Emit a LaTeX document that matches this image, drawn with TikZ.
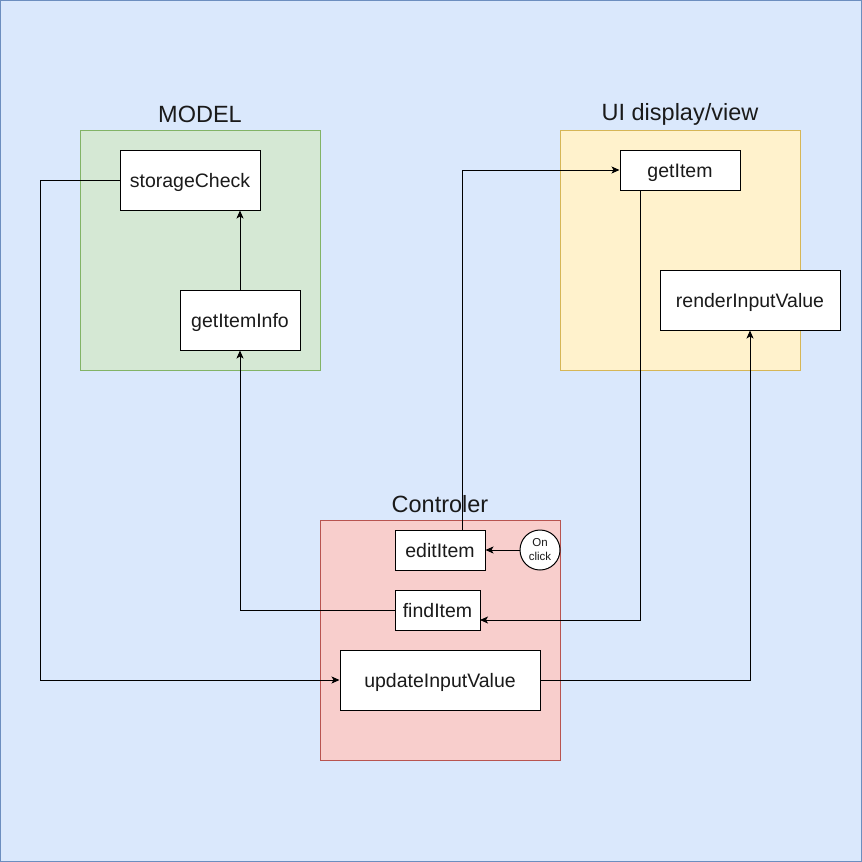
\documentclass[tikz,border=0pt]{standalone}
\usepackage{fontspec}
\setmainfont{Liberation Sans}
\usetikzlibrary{arrows.meta,calc}
\definecolor{bgfill}{HTML}{DAE8FC}
\definecolor{bgline}{HTML}{6C8EBF}
\definecolor{gfill}{HTML}{D5E8D4}
\definecolor{gline}{HTML}{82B366}
\definecolor{yfill}{HTML}{FFF2CC}
\definecolor{yline}{HTML}{D6B656}
\definecolor{rfill}{HTML}{F8CECC}
\definecolor{rline}{HTML}{B85450}
\definecolor{txt}{HTML}{1A1A1A}
\begin{document}
\begin{tikzpicture}[x=1pt,y=-1pt,
  box/.style={draw=black,fill=white,line width=1pt,inner sep=0pt,text height=14pt,text depth=0pt,font=\fontsize{19.5}{22}\selectfont,text=txt},
  grp/.style={line width=1pt},
  glabel/.style={font=\fontsize{23.5}{26}\selectfont,text=txt},
  conn/.style={draw=black,line width=1pt,-{Stealth[length=8pt,width=7pt,inset=2pt]}}]
\useasboundingbox (0,0) rectangle (862,862);
\draw[fill=bgfill,draw=bgline,line width=1pt] (0.5,0.5) rectangle (861,861);
% groups
\draw[grp,fill=gfill,draw=gline] (80,130) rectangle (320,370);
\node[glabel] (mlabel) at (200,114.5) {MODEL};
\draw[grp,fill=yfill,draw=yline] (560,130) rectangle (800,370);
\node[glabel] (ulabel) at (680,114) {UI display/view};
\draw[grp,fill=rfill,draw=rline] (320,520) rectangle (560,760);
\node[glabel] (clabel) at (440,504.5) {Controler};
% boxes
\node[box,minimum width=140pt,minimum height=60pt] (sc) at (190,180) {storageCheck};
\node[box,minimum width=120pt,minimum height=60pt] (gii) at (240,320) {getItemInfo};
\node[box,minimum width=120pt,minimum height=40pt] (gi) at (680,170) {getItem};
\node[box,minimum width=180pt,minimum height=60pt] (riv) at (750,300) {renderInputValue};
\node[box,minimum width=90pt,minimum height=40pt] (ei) at (440,550) {editItem};
\node[box,minimum width=85pt,minimum height=40pt] (fi) at (437.5,610) {findItem};
\node[box,minimum width=200pt,minimum height=60pt] (uiv) at (440,680) {updateInputValue};
\node[draw=black,fill=white,circle,line width=1pt,minimum size=40pt,inner sep=0pt,align=center,font=\fontsize{11.5}{14}\selectfont,text=txt] (oc) at (540,550) {On\\click};
% connectors
\coordinate (c1) at (40,180);
\coordinate (c2) at (40,680);
\draw[conn] (sc.west) -- (c1) -- (c2) -- (uiv.west);
\draw[conn] (gii.north) -- (sc.south -| gii.north);
\coordinate (c3) at (240,610);
\draw[conn] (fi.west) -- (c3) -- (gii.south);
\coordinate (c4) at (462,530);
\coordinate (c5) at (462,170);
\draw[conn] (c4) -- (c5) -- (gi.west);
\coordinate (c6) at (640,190);
\coordinate (c7) at (640,620);
\coordinate (c8) at (480,620);
\draw[conn] (c6) -- (c7) -- (c8);
\coordinate (c9) at (750,680);
\draw[conn] (uiv.east) -- (c9) -- (riv.south);
\draw[conn] (oc.west) -- (ei.east);
\end{tikzpicture}
\end{document}
